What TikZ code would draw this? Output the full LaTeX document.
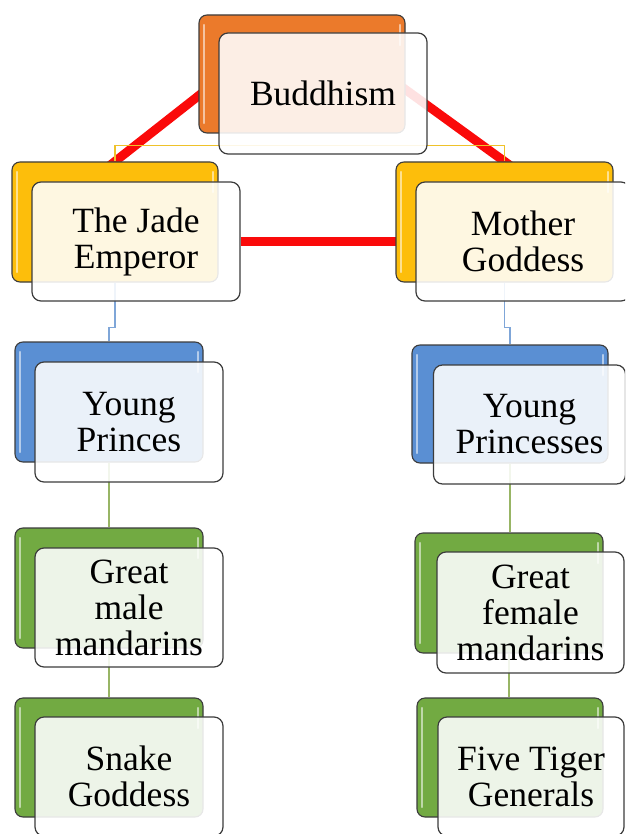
\documentclass[tikz,border=0pt]{standalone}
\usepackage{fontspec}
\setmainfont{Liberation Serif}
\usetikzlibrary{calc}
\pgfdeclarelayer{bg}
\pgfsetlayers{bg,main}

\definecolor{orangeBk}{HTML}{EB7A2B}
\definecolor{goldBk}{HTML}{FDBE0B}
\definecolor{blueBk}{HTML}{5A8FD3}
\definecolor{greenBk}{HTML}{72AA42}
\definecolor{relRed}{HTML}{FA0A0A}
\definecolor{relGold}{HTML}{EFC22A}
\definecolor{linkBlue}{HTML}{7FA6D8}
\definecolor{linkGreen}{HTML}{98B565}
\definecolor{edgeGray}{HTML}{3C3C3C}

\begin{document}
\begin{tikzpicture}[x=1pt,y=-1pt,
  back/.style={draw=edgeGray, line width=1.1pt, rounded corners=8pt,
    inner sep=0pt, fill=#1,
    path picture={
      \draw[white, opacity=0.55, line width=2.4pt, line cap=round]
        ([xshift=5pt,yshift=-10pt]path picture bounding box.north west) --
        ([xshift=5pt,yshift=10pt]path picture bounding box.south west);
      \draw[white, opacity=0.55, line width=2.4pt, line cap=round]
        ([xshift=-5pt,yshift=-10pt]path picture bounding box.north east) --
        ([xshift=-5pt,yshift=-30pt]path picture bounding box.north east);
    }},
  front/.style={draw=edgeGray, line width=1.2pt, rounded corners=9pt,
    fill=white, fill opacity=0.88, text opacity=1, align=center,
    inner sep=0pt, text=black, font=\fontsize{35.5}{36}\selectfont},
  relation/.style={draw=relRed, line width=9pt},
  link/.style={draw=#1, line width=1.3pt},
]
\clip (0,0) rectangle (625,834);

% top: Buddhism
\node[back=orangeBk, minimum width=206pt, minimum height=118pt] (budB) at (302,74) {};
\node[front, minimum width=208pt, minimum height=121pt] (budF) at (323,93.5) {Buddhism};

% second row
\node[back=goldBk, minimum width=206pt, minimum height=120pt] (jadeB) at (115,222) {};
\node[front, minimum width=208pt, minimum height=119pt] (jadeF) at (136,241.5) {The Jade\\Emperor};
\node[back=goldBk, minimum width=217pt, minimum height=120pt] (motB) at (504.5,222) {};
\node[front, minimum width=214pt, minimum height=119pt] (motF) at (523,241.5) {Mother\\Goddess};

% third row
\node[back=blueBk, minimum width=188pt, minimum height=120pt] (ypB) at (109,402) {};
\node[front, minimum width=188pt, minimum height=120pt] (ypF) at (129,422) {Young\\Princes};
\node[back=blueBk, minimum width=196pt, minimum height=118pt] (ypsB) at (510,404) {};
\node[front, minimum width=192pt, minimum height=119pt] (ypsF) at (529.5,424.5) {Young\\Princesses};

% fourth row
\node[back=greenBk, minimum width=188pt, minimum height=120pt] (gmB) at (109,588) {};
\node[front, minimum width=188pt, minimum height=119pt] (gmF) at (129,607.5) {Great\\male\\mandarins};
\node[back=greenBk, minimum width=188pt, minimum height=120pt] (gfB) at (509,593) {};
\node[front, minimum width=187pt, minimum height=121pt] (gfF) at (530.5,612.5) {Great\\female\\mandarins};

% fifth row
\node[back=greenBk, minimum width=188pt, minimum height=119pt] (snB) at (109,757.5) {};
\node[front, minimum width=188pt, minimum height=119pt] (snF) at (129,776.5) {Snake\\Goddess};
\node[back=greenBk, minimum width=186pt, minimum height=119pt] (ftB) at (510,757.5) {};
\node[front, minimum width=186pt, minimum height=119pt] (ftF) at (531,776.5) {Five Tiger\\Generals};

\begin{pgfonlayer}{bg}
  % thick relations between the three deities
  \draw[relation] ($(jadeB.north)!-12pt!(budB.north)$) -- ($(jadeB.north)!0.75!(budB.north)$);
  \draw[relation] ($(motB.north)!-12pt!(budB.north)$) -- ($(motB.north)!0.75!(budB.north)$);
  \draw[relation] (jadeF.east) -- (motF.west);
  % thin link between the two rulers
  \draw[link=relGold] (jadeB.north) -- ++(0,-16) -| (motB.north);
  % hierarchy links
  \draw[link=linkBlue] (jadeB.south) -- ++(0,45) -| (ypB.north);
  \draw[link=linkBlue] (motB.south) -- ++(0,45) -| (ypsB.north);
  \draw[link=linkGreen] (ypB.south) -- (gmB.north);
  \draw[link=linkGreen] (gmB.south) -- (snB.north);
  \draw[link=linkGreen] (ypsB.south) -- (ypsB.south |- gfB.north);
  \draw[link=linkGreen] (gfB.south) -- (gfB.south |- ftB.north);
\end{pgfonlayer}
\end{tikzpicture}
\end{document}
